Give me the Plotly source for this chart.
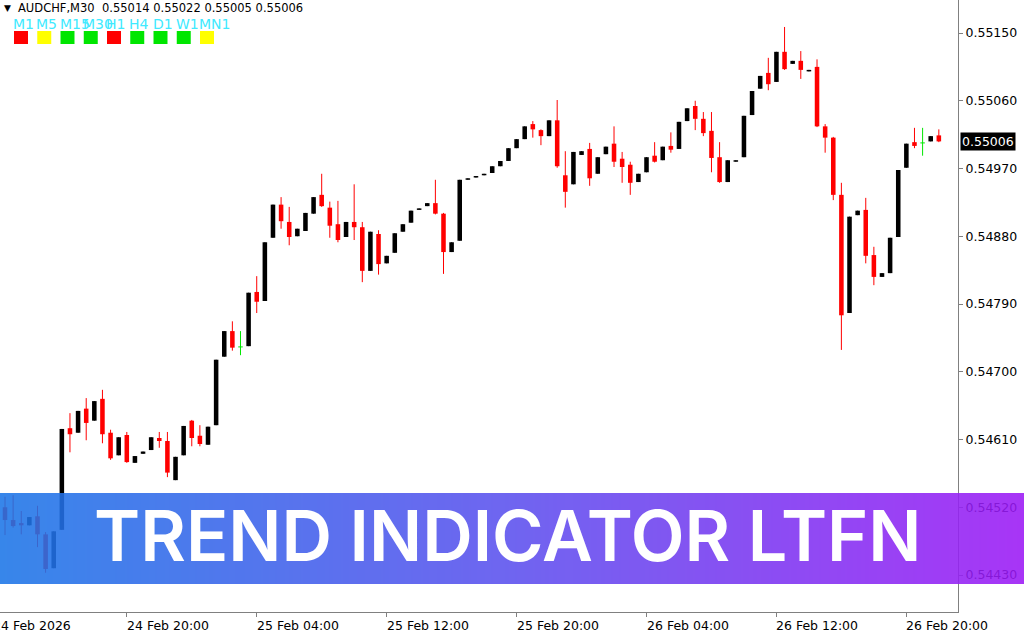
import base64, struct, zlib
import plotly.graph_objects as go

# ---------------- data (AUDCHF, M30) ----------------
OPEN = [0.54520,0.54503,0.54499,0.54496,0.54508,0.54484,0.54439,0.54490,0.54625,0.54619,
        0.54651,0.54635,0.54664,0.54619,0.54589,0.54616,0.54579,0.54591,0.54596,0.54612,
        0.54608,0.54556,0.54589,0.54635,0.54615,0.54603,0.54629,0.54720,0.54754,0.54733,
        0.54734,0.54806,0.54794,0.54878,0.54922,0.54899,0.54880,0.54887,0.54910,0.54935,
        0.54918,0.54896,0.54879,0.54899,0.54892,0.54834,0.54883,0.54844,0.54858,0.54886,
        0.54898,0.54915,0.54920,0.54924,0.54910,0.54859,0.54874,0.54955,0.54958,0.54961,
        0.54964,0.54973,0.54980,0.54997,0.55009,0.55029,0.55021,0.55013,0.55034,0.54961,
        0.54949,0.54988,0.54996,0.54963,0.54989,0.55003,0.54983,0.54975,0.54952,0.54965,
        0.54987,0.54981,0.55000,0.54996,0.55033,0.55053,0.55036,0.55020,0.54985,0.54952,
        0.54979,0.54985,0.55041,0.55076,0.55097,0.55085,0.55125,0.55109,0.55113,0.55099,
        0.55105,0.55026,0.55011,0.54935,0.54778,0.54908,0.54915,0.54855,0.54826,0.54831,
        0.54879,0.54971,0.55005,0.55004,0.55006,0.55014]
HIGH = [0.54534,0.54536,0.54515,0.54507,0.54522,0.54487,0.54488,0.54624,0.54645,0.54648,
        0.54665,0.54661,0.54676,0.54623,0.54613,0.54620,0.54588,0.54594,0.54613,0.54620,
        0.54620,0.54587,0.54628,0.54636,0.54629,0.54627,0.54716,0.54754,0.54767,0.54754,
        0.54805,0.54827,0.54872,0.54922,0.54932,0.54919,0.54890,0.54911,0.54932,0.54963,
        0.54926,0.54927,0.54899,0.54949,0.54899,0.54886,0.54888,0.54854,0.54884,0.54896,
        0.54914,0.54917,0.54924,0.54955,0.54911,0.54872,0.54955,0.54957,0.54960,0.54963,
        0.54973,0.54980,0.54997,0.55009,0.55026,0.55033,0.55022,0.55034,0.55061,0.54993,
        0.54992,0.54993,0.55004,0.54985,0.54999,0.55026,0.54992,0.54979,0.54963,0.54985,
        0.55005,0.54999,0.55018,0.55032,0.55050,0.55060,0.55045,0.55045,0.55005,0.54981,
        0.54981,0.55040,0.55073,0.55093,0.55117,0.55125,0.55158,0.55113,0.55126,0.55101,
        0.55115,0.55029,0.55012,0.54951,0.54906,0.54914,0.54931,0.54866,0.54831,0.54878,
        0.54968,0.55003,0.55024,0.55024,0.55013,0.55022]
LOW = [0.54483,0.54493,0.54484,0.54496,0.54467,0.54433,0.54439,0.54490,0.54593,0.54619,
       0.54609,0.54635,0.54605,0.54583,0.54589,0.54579,0.54579,0.54591,0.54596,0.54599,
       0.54560,0.54556,0.54589,0.54601,0.54601,0.54603,0.54629,0.54720,0.54728,0.54722,
       0.54734,0.54778,0.54794,0.54878,0.54890,0.54868,0.54880,0.54887,0.54910,0.54919,
       0.54878,0.54872,0.54879,0.54875,0.54819,0.54834,0.54829,0.54844,0.54858,0.54886,
       0.54898,0.54915,0.54920,0.54909,0.54830,0.54859,0.54874,0.54955,0.54958,0.54961,
       0.54964,0.54973,0.54980,0.54997,0.55009,0.55011,0.55001,0.55013,0.54971,0.54918,
       0.54949,0.54988,0.54947,0.54963,0.54989,0.54972,0.54951,0.54935,0.54952,0.54965,
       0.54978,0.54981,0.54991,0.54996,0.55033,0.55021,0.55013,0.54965,0.54951,0.54952,
       0.54979,0.54985,0.55041,0.55076,0.55074,0.55085,0.55101,0.55109,0.55089,0.55099,
       0.55025,0.54991,0.54928,0.54729,0.54778,0.54908,0.54844,0.54815,0.54826,0.54831,
       0.54879,0.54971,0.54997,0.54987,0.55006,0.55005]
CLOSE = [0.54503,0.54495,0.54496,0.54507,0.54484,0.54438,0.54488,0.54624,0.54617,0.54648,
         0.54632,0.54661,0.54617,0.54585,0.54613,0.54580,0.54588,0.54594,0.54613,0.54608,
         0.54566,0.54587,0.54628,0.54612,0.54604,0.54627,0.54716,0.54754,0.54732,0.54733,
         0.54805,0.54793,0.54872,0.54922,0.54900,0.54879,0.54890,0.54911,0.54932,0.54920,
         0.54894,0.54875,0.54899,0.54892,0.54834,0.54886,0.54843,0.54854,0.54884,0.54896,
         0.54914,0.54917,0.54924,0.54910,0.54859,0.54872,0.54955,0.54957,0.54960,0.54963,
         0.54973,0.54980,0.54997,0.55009,0.55026,0.55022,0.55013,0.55034,0.54973,0.54939,
         0.54992,0.54993,0.54957,0.54985,0.54999,0.54979,0.54972,0.54951,0.54963,0.54985,
         0.54979,0.54999,0.54995,0.55032,0.55050,0.55036,0.55017,0.54984,0.54952,0.54981,
         0.54981,0.55040,0.55073,0.55093,0.55082,0.55125,0.55102,0.55113,0.55101,0.55101,
         0.55026,0.55011,0.54935,0.54775,0.54906,0.54914,0.54854,0.54826,0.54831,0.54878,
         0.54968,0.55003,0.55000,0.55004,0.55013,0.55006]

PRICE_TICKS = [0.54430, 0.54520, 0.54610, 0.54700, 0.54790, 0.54880, 0.54970, 0.55060, 0.55150]
TIME_TICK_INDEX = [-1, 15, 31, 47, 63, 79, 95, 111]
TIME_TICK_TEXT = ["24 Feb 2026", "24 Feb 20:00", "25 Feb 04:00", "25 Feb 12:00",
                  "25 Feb 20:00", "26 Feb 04:00", "26 Feb 12:00", "26 Feb 20:00"]
HEADER = "AUDCHF,M30  0.55014 0.55022 0.55005 0.55006"
LAST_PRICE = 0.55006
TF_LABELS = ["M1", "M5", "M15", "M30", "H1", "H4", "D1", "W1", "MN1"]
TF_STATE = ["down", "flat", "up", "up", "down", "up", "up", "up", "flat"]
BANNER_TEXT = "TREND INDICATOR LTFN"

# ---------------- styling ----------------
BULL, BEAR, DOJI = "#000000", "#ff0000", "#00e600"
STATE_COLOR = {"down": "#ff0000", "flat": "#ffff00", "up": "#00e600"}
W, H = 1024, 640
ML, MR, MT, MB = 0, 66, 0, 28
PW, PH = W - ML - MR, H - MT - MB
X_RANGE = [-0.616, 117.36]
Y_RANGE = [0.5438085, 0.5519384]
BODY_W = 0.56

n = len(OPEN)
idx = list(range(n))
groups = {"bull": [], "bear": [], "doji": []}
for i in idx:
    if CLOSE[i] > OPEN[i]:
        groups["bull"].append(i)
    elif CLOSE[i] < OPEN[i]:
        groups["bear"].append(i)
    else:
        groups["doji"].append(i)

fig = go.Figure()
for name, col in (("bull", BULL), ("bear", BEAR)):
    g = groups[name]
    wx, wy = [], []
    for i in g:
        wx += [i, i, None]
        wy += [LOW[i], HIGH[i], None]
    fig.add_trace(go.Scatter(x=wx, y=wy, mode="lines", line=dict(color=col, width=1),
                             hoverinfo="skip"))
    fig.add_trace(go.Bar(x=g, base=[min(OPEN[i], CLOSE[i]) for i in g],
                         y=[abs(CLOSE[i] - OPEN[i]) for i in g], width=BODY_W,
                         marker=dict(color=col, line=dict(width=0))))
# doji crosses
dx, dy = [], []
for i in groups["doji"]:
    dx += [i, i, None, i - BODY_W / 2, i + BODY_W / 2, None]
    dy += [LOW[i], HIGH[i], None, OPEN[i], OPEN[i], None]
fig.add_trace(go.Scatter(x=dx, y=dy, mode="lines", line=dict(color=DOJI, width=1), hoverinfo="skip"))

# ---------------- gradient banner image ----------------
def gradient_png(stops, w=512):
    raw = bytearray([0])
    for k in range(w):
        t = k / (w - 1)
        for j in range(len(stops) - 1):
            t0, c0 = stops[j]
            t1, c1 = stops[j + 1]
            if t <= t1:
                f = (t - t0) / (t1 - t0)
                raw += bytes(int(round(c0[m] + (c1[m] - c0[m]) * f)) for m in range(3))
                break
    def chunk(tag, data):
        return struct.pack(">I", len(data)) + tag + data + struct.pack(">I", zlib.crc32(tag + data) & 0xffffffff)
    png = (b"\x89PNG\r\n\x1a\n" + chunk(b"IHDR", struct.pack(">IIBBBBB", w, 1, 8, 2, 0, 0, 0))
           + chunk(b"IDAT", zlib.compress(bytes(raw))) + chunk(b"IEND", b""))
    return "data:image/png;base64," + base64.b64encode(png).decode()

banner_src = gradient_png([(0.0, (28, 118, 232)), (0.5, (92, 80, 238)), (1.0, (156, 26, 245))])
BAN_TOP, BAN_BOT = 493, 584
images = [dict(source=banner_src, xref="paper", yref="paper", x=0, y=1 - BAN_TOP / PH,
               sizex=W / PW, sizey=(BAN_BOT - BAN_TOP) / PH, xanchor="left", yanchor="top",
               sizing="stretch", layer="above", opacity=0.88)]

annotations = []
# time labels (left aligned at tick)
for k, (ti, tt) in enumerate(zip(TIME_TICK_INDEX, TIME_TICK_TEXT)):
    px = (ti - X_RANGE[0]) / (X_RANGE[1] - X_RANGE[0])
    annotations.append(dict(text=tt, xref="paper", yref="paper", x=px, y=-13 / PH,
                            xanchor="left", yanchor="middle", showarrow=False,
                            xshift=-6 if k == 0 else -2,
                            font=dict(family="DejaVu Sans", size=12.5, color="#000000")))
# last price label
annotations.append(dict(text=f"{LAST_PRICE:.5f}", xref="paper", yref="y", x=1 + 2 / PW, y=LAST_PRICE,
                        xanchor="left", yanchor="middle", showarrow=False, bgcolor="#000000",
                        borderpad=1, font=dict(family="DejaVu Sans", size=12.5, color="#ffffff")))
# header
annotations.append(dict(text="▼", xref="paper", yref="paper", x=2 / PW, y=1 - 8 / PH,
                        xanchor="left", yanchor="middle", showarrow=False,
                        font=dict(family="DejaVu Sans", size=9, color="#000000")))
annotations.append(dict(text=HEADER.replace("  ", "&nbsp; "), xref="paper", yref="paper", x=16 / PW, y=1 - 8 / PH,
                        xanchor="left", yanchor="middle", showarrow=False,
                        font=dict(family="DejaVu Sans", size=11.5, color="#000000")))
shapes = []
for k, (lab, st) in enumerate(zip(TF_LABELS, TF_STATE)):
    x0 = 14 + 23.25 * k
    annotations.append(dict(text=lab, xref="paper", yref="paper", x=(x0 - 3) / PW, y=1 - 24 / PH,
                            xanchor="left", yanchor="middle", showarrow=False,
                            font=dict(family="DejaVu Sans", size=14, color="#40eaff")))
    shapes.append(dict(type="rect", xref="paper", yref="paper", x0=x0 / PW, x1=(x0 + 14) / PW,
                       y0=1 - 44 / PH, y1=1 - 31 / PH, fillcolor=STATE_COLOR[st], line=dict(width=0)))
# banner text
annotations.append(dict(text=BANNER_TEXT, xref="paper", yref="paper", x=507.5 / PW, y=1 - 535.5 / PH,
                        xanchor="center", yanchor="middle", showarrow=False,
                        font=dict(family="Inter", size=70, weight=600, color="#ffffff")))

fig.update_layout(
    width=W, height=H, margin=dict(l=ML, r=MR, t=MT, b=MB),
    plot_bgcolor="#ffffff", paper_bgcolor="#ffffff", showlegend=False, barmode="overlay",
    images=images, annotations=annotations, shapes=shapes,
    xaxis=dict(range=X_RANGE, showgrid=False, zeroline=False, showline=True, linecolor="#808080",
               linewidth=1, ticks="outside", ticklen=4, tickcolor="#808080",
               tickvals=TIME_TICK_INDEX[1:], showticklabels=False, fixedrange=True),
    yaxis=dict(range=Y_RANGE, side="right", showgrid=False, zeroline=False, showline=True,
               linecolor="#808080", linewidth=1, ticks="outside", ticklen=4, tickcolor="#808080",
               tickvals=PRICE_TICKS, ticktext=[f"{v:.5f}" for v in PRICE_TICKS], automargin=False,
               tickfont=dict(family="DejaVu Sans", size=12.5, color="#000000"), fixedrange=True),
)
fig.write_html("out.html", config={"displayModeBar": False, "staticPlot": True},
               post_script="document.body.style.margin='0';document.body.style.overflow='hidden';")
